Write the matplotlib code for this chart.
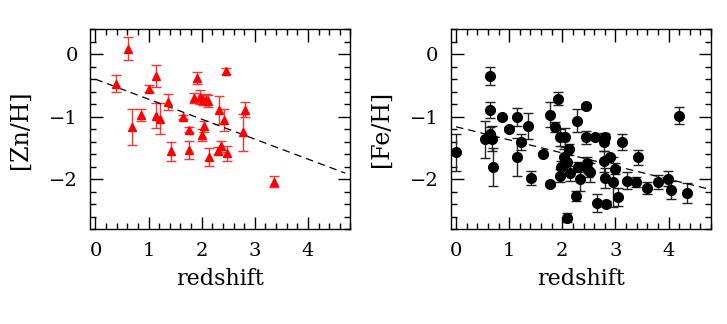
import matplotlib
matplotlib.use('Agg')

import matplotlib.pyplot as plt
from matplotlib.ticker import MultipleLocator

# [Zn/H] vs redshift (left panel)
zn_z = [0.39, 0.61, 0.69, 0.86, 1.01, 1.14, 1.14, 1.22, 1.37, 1.42, 1.64, 1.77, 1.77, 1.86, 1.91,
        1.97, 2.00, 2.02, 2.05, 2.08, 2.11, 2.14, 2.30, 2.33, 2.37, 2.42, 2.46, 2.48, 2.77, 2.81, 3.37]
zn_val = [-0.47, 0.09, -1.16, -0.97, -0.55, -0.35, -0.98, -1.03, -0.76, -1.55, -1.00, -1.21, -1.53, -0.70, -0.38,
          -0.68, -1.29, -0.73, -1.15, -0.73, -0.75, -1.64, -1.54, -0.89, -1.47, -1.05, -0.27, -1.58, -1.25, -0.89, -2.04]
zn_err = [0.13, 0.18, 0.29, 0.10, 0.05, 0.18, 0.20, 0.25, 0.13, 0.15, 0.03, 0.04, 0.15, 0.08, 0.09,
          0.11, 0.09, 0.08, 0.09, 0.09, 0.09, 0.14, 0.05, 0.22, 0.09, 0.17, 0.05, 0.12, 0.29, 0.12, 0.09]
zn_fit_x = [0.0, 4.7]
zn_fit_y = [-0.40, -1.90]

# [Fe/H] vs redshift (right panel)
fe_z = [0.00, 0.54, 0.63, 0.63, 0.64, 0.67, 0.69, 0.86, 1.00, 1.14, 1.14, 1.22, 1.36, 1.41, 1.64,
        1.76, 1.76, 1.86, 1.91, 1.96, 1.97, 1.96, 2.03, 2.06, 2.08, 2.09, 2.13, 2.14, 2.28, 2.26,
        2.30, 2.33, 2.44, 2.45, 2.46, 2.49, 2.53, 2.61, 2.66, 2.78, 2.79, 2.80, 2.80, 2.83, 2.90,
        2.95, 3.00, 3.04, 3.13, 3.22, 3.38, 3.42, 3.60, 3.81, 3.99, 4.05, 4.19, 4.35]
fe_val = [-1.57, -1.36, -0.35, -0.89, -1.27, -1.35, -1.80, -1.01, -1.20, -1.00, -1.64, -1.40, -1.15, -1.98, -1.59,
          -2.08, -0.97, -1.16, -0.71, -1.33, -1.80, -1.94, -1.64, -1.33, -1.72, -2.61, -1.52, -1.90, -1.06, -2.27,
          -1.80, -1.99, -1.33, -0.83, -1.74, -1.85, -1.89, -1.33, -2.38, -1.71, -1.40, -1.32, -1.98, -2.39, -1.64,
          -2.05, -1.83, -2.28, -1.40, -2.02, -2.04, -1.65, -2.14, -2.04, -1.99, -2.17, -0.98, -2.22]
fe_err = [0.30, 0.30, 0.15, 0.13, 0.10, 0.20, 0.30, 0.02, 0.03, 0.14, 0.30, 0.13, 0.21, 0.11, 0.03,
          0.03, 0.20, 0.08, 0.10, 0.14, 0.10, 0.10, 0.13, 0.15, 0.13, 0.07, 0.09, 0.12, 0.18, 0.08,
          0.08, 0.20, 0.11, 0.03, 0.09, 0.12, 0.15, 0.02, 0.15, 0.17, 0.14, 0.04, 0.16, 0.04, 0.03,
          0.40, 0.09, 0.14, 0.13, 0.13, 0.08, 0.12, 0.10, 0.11, 0.12, 0.14, 0.14, 0.16]
fe_fit_x = [0.0, 4.78]
fe_fit_y = [-1.16, -2.16]

FONT = 'DejaVu Serif'
plt.rcParams['font.family'] = FONT
plt.rcParams['axes.linewidth'] = 1.0


def style_axes(ax, ylabel):
    ax.set_xlim(-0.1, 4.8)
    ax.set_ylim(-2.8, 0.4)
    ax.xaxis.set_major_locator(MultipleLocator(1))
    ax.xaxis.set_minor_locator(MultipleLocator(0.2))
    ax.yaxis.set_major_locator(MultipleLocator(1))
    ax.yaxis.set_minor_locator(MultipleLocator(0.2))
    ax.tick_params(which='both', direction='in', top=True, right=True, width=1.0)
    ax.tick_params(which='major', length=9, pad=9, labelsize=14)
    ax.tick_params(which='minor', length=4.5)
    ax.set_xlabel('redshift', fontsize=16, labelpad=6)
    ax.set_ylabel(ylabel, fontsize=17, labelpad=12)
    for lab in ax.get_xticklabels() + ax.get_yticklabels():
        lab.set_fontweight('light')


fig = plt.figure(figsize=(7.27, 3.24), dpi=100)
ax1 = fig.add_axes([0.124, 0.292, 0.358, 0.618])
ax2 = fig.add_axes([0.620, 0.292, 0.358, 0.618])

ax1.errorbar(zn_z, zn_val, yerr=zn_err, fmt='^', color='red', ecolor='#ff3333',
             markersize=5.5, elinewidth=1.0, capsize=3.5, capthick=1.0)
ax1.plot(zn_fit_x, zn_fit_y, color='black', linewidth=0.9, dashes=(6, 4))
style_axes(ax1, '[Zn/H]')

ax2.errorbar(fe_z, fe_val, yerr=fe_err, fmt='o', color='black', ecolor='#222222',
             markersize=7, elinewidth=1.0, capsize=3.5, capthick=1.0)
ax2.plot(fe_fit_x, fe_fit_y, color='black', linewidth=0.9, dashes=(6, 4))
style_axes(ax2, '[Fe/H]')

fig.savefig('out.png', dpi=100)
plt.close(fig)
